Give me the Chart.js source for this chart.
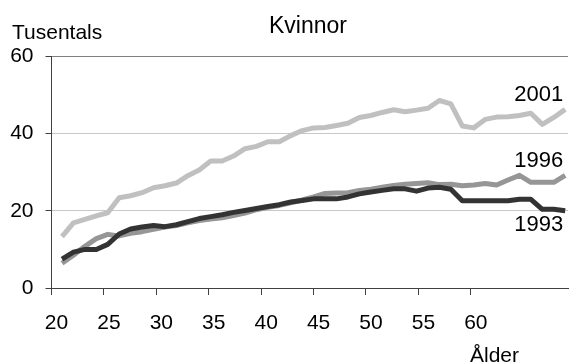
<!DOCTYPE html>
<html>
<head>
<meta charset="utf-8">
<script src="https://cdn.jsdelivr.net/npm/chart.js@4/dist/chart.umd.min.js"></script>
<style>
  html, body { margin: 0; padding: 0; background: #ffffff; }
  #c { display: block; }
</style>
</head>
<body>
<canvas id="c" width="569" height="364"></canvas>
<script>
// ---- data ----
const ages = [20,21,22,23,24,25,26,27,28,29,30,31,32,33,34,35,36,37,38,39,40,41,42,
              43,44,45,46,47,48,49,50,51,52,53,54,55,56,57,58,59,60,61,62,63,64];
const values2001 = [13.3,16.9,17.8,18.7,19.5,23.4,23.9,24.7,26.0,26.5,27.2,29.1,30.6,32.9,32.9,34.2,
                    36.1,36.7,37.9,37.9,39.5,40.8,41.5,41.6,42.1,42.7,44.2,44.7,45.5,46.2,45.7,46.1,
                    46.6,48.6,47.7,42.0,41.5,43.7,44.3,44.4,44.7,45.3,42.4,44.2,46.3];
const values1996 = [6.4,8.5,10.8,12.8,13.9,13.5,14.2,14.6,15.2,15.8,16.2,16.9,17.5,17.9,18.2,18.8,
                    19.4,20.3,20.9,21.4,22.1,22.8,23.6,24.5,24.6,24.7,25.3,25.6,26.1,26.6,26.9,27.1,
                    27.3,26.8,26.9,26.5,26.7,27.1,26.7,28.0,29.2,27.4,27.4,27.4,29.2];
const values1993 = [7.5,9.3,10.0,10.0,11.3,14.0,15.3,15.8,16.2,15.9,16.4,17.2,18.0,18.5,19.0,19.6,
                    20.1,20.6,21.1,21.6,22.3,22.7,23.1,23.1,23.1,23.6,24.4,24.9,25.3,25.7,25.7,25.1,
                    25.9,26.1,25.6,22.6,22.6,22.6,22.6,22.6,23.0,23.0,20.4,20.4,20.0];
const xTickLabels = [20,25,30,35,40,45,50,55,60];
const yTickLabels = [0,20,40,60];
const seriesNames = ['1993','1996','2001'];
const labelValues = [16.4, 33.0, 50.1]; // where the series names sit (y value)

const titleText = 'Kvinnor';
const yTitle = 'Tusentals';
const xTitle = 'Ålder';

const FONT = '"Liberation Sans", Arial, Helvetica, sans-serif';

function pts(vals) { return ages.map((a, i) => ({ x: a, y: vals[i] })); }

const textPlugin = {
  id: 'texts',
  afterDraw(chart) {
    const ctx = chart.ctx;
    const xs = chart.scales.x, ys = chart.scales.y;
    ctx.save();
    ctx.fillStyle = '#000000';
    ctx.textBaseline = 'alphabetic';
    ctx.font = '23px ' + FONT;
    ctx.textAlign = 'center';
    ctx.fillText(titleText, 308, 32.5);
    ctx.font = '21px ' + FONT;
    ctx.textAlign = 'left';
    ctx.fillText(yTitle, 12, 39);
    ctx.fillText(xTitle, 470, 362);
    // series names, anchored to the data scales
    ctx.font = '22px ' + FONT;
    ctx.textAlign = 'right';
    ctx.textBaseline = 'middle';
    const xr = xs.getPixelForValue(ages[ages.length - 1]) - 2;
    seriesNames.forEach((n, i) => {
      ctx.fillText(n, xr, ys.getPixelForValue(labelValues[i]));
    });
    ctx.restore();
  }
};

new Chart(document.getElementById('c'), {
  type: 'line',
  data: {
    datasets: [
      { label: '1993', data: pts(values1993), borderColor: '#333333', xAxisID: 'x' },
      { label: '1996', data: pts(values1996), borderColor: '#969696', xAxisID: 'x' },
      { label: '2001', data: pts(values2001), borderColor: '#c0c0c0', xAxisID: 'x' }
    ]
  },
  options: {
    responsive: false,
    animation: false,
    devicePixelRatio: 1,
    layout: { padding: { left: 0, right: 1, top: 56.5, bottom: 0 } },
    elements: {
      line: { borderWidth: 5, tension: 0, borderJoinStyle: 'round', borderCapStyle: 'butt', fill: false },
      point: { radius: 0, hoverRadius: 0 }
    },
    plugins: { legend: { display: false }, title: { display: false }, tooltip: { enabled: false } },
    scales: {
      x: {
        type: 'linear',
        display: false,
        min: 19.081,
        max: 64.245
      },
      x2: {
        type: 'linear',
        position: 'bottom',
        min: 20,
        max: 69.27,
        afterBuildTicks(axis) {
          axis.ticks = xTickLabels.map(v => ({ value: v }));
        },
        afterFit(axis) { axis.height = 76; },
        ticks: {
          stepSize: 5,
          autoSkip: false,
          maxRotation: 0,
          padding: 16,
          labelOffset: 5,
          color: '#000000',
          font: { family: FONT, size: 21 },
          callback: v => String(v)
        },
        grid: { drawOnChartArea: false, drawTicks: true, tickLength: 7, tickColor: '#404040', color: '#404040' },
        border: { display: true, color: '#404040', width: 1 }
      },
      y: {
        type: 'linear',
        min: 0,
        max: 60,
        afterBuildTicks(axis) {
          axis.ticks = yTickLabels.map(v => ({ value: v }));
        },
        afterFit(axis) { axis.width = 51.5; },
        ticks: {
          stepSize: 20,
          padding: 12,
          color: '#000000',
          font: { family: FONT, size: 21 }
        },
        grid: {
          drawTicks: true,
          tickLength: 6,
          tickColor: '#404040',
          color: ctx => (ctx.tick && ctx.tick.value === 60) ? '#808080' : (ctx.tick && ctx.tick.value === 0 ? 'rgba(0,0,0,0)' : '#c8c8c8'),
          lineWidth: 1
        },
        border: { display: true, color: '#404040', width: 1 }
      }
    }
  },
  plugins: [textPlugin]
});
</script>
</body>
</html>
